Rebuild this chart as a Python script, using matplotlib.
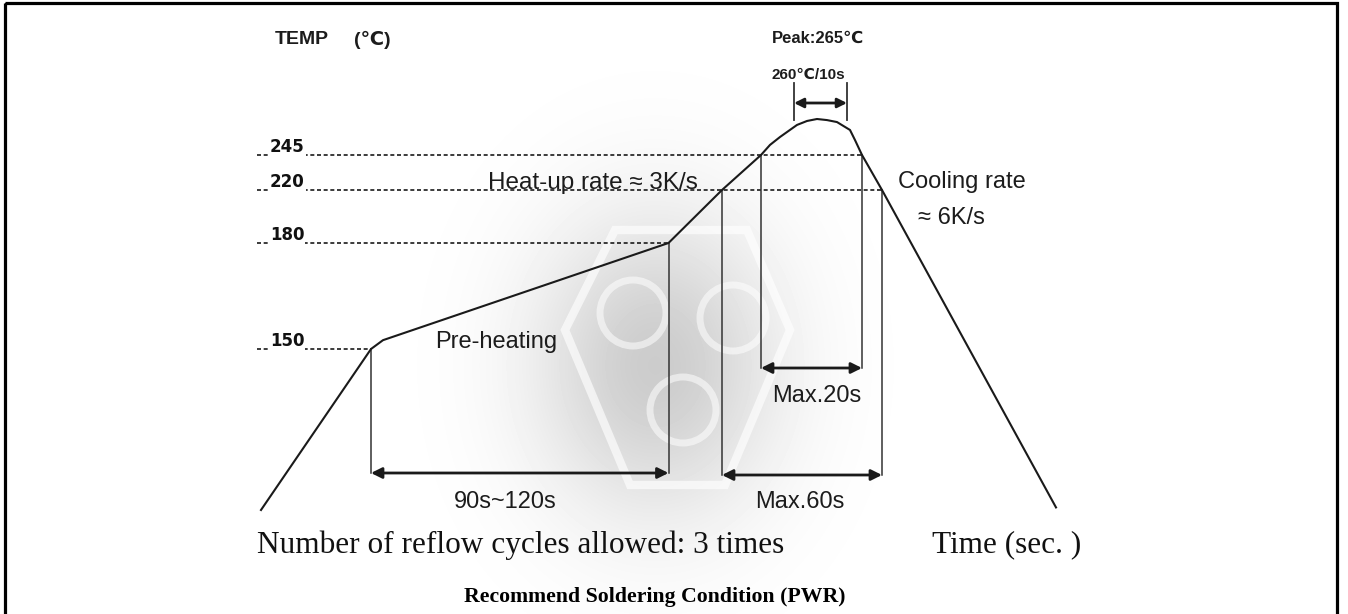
import numpy as np
import matplotlib.pyplot as plt
from matplotlib.patches import Rectangle, Polygon, Circle

# Reflow profile (time in s from start, temperature in degC)
profile_time = [0, 44, 48.8, 163, 184.4, 200, 203.6, 207.6, 214.4, 218.4, 222.4,
                226.4, 230.4, 235.6, 237.6, 240.4, 248.4, 318]
profile_temp = [25, 150, 152.5, 180, 220, 245, 250.6, 255, 261.7, 263.9, 265,
                264.4, 263.3, 258.9, 253.3, 245, 220, 27]

# Temperature levels marked on the left and where their dashed guides stop
level_values = [150, 180, 220, 245]
level_labels = ['150', '180', '220', '245']
level_end_time = [44, 163, 248.4, 240.4]

# Time windows shown by double arrows (start, end) in s
preheat_window = (44, 163)
above_220_window = (184.4, 248.4)
above_245_window = (200, 240.4)
peak_window = (213.2, 234.4)

# The drawing is schematic: temperatures are placed on a non-linear scale
x0, sx = 261, 2.5
scale_temp = [25, 150, 180, 220, 245, 265]
scale_px = [510, 349, 243, 190, 155, 119]


def tx(t):
    return x0 + np.asarray(t, dtype=float) * sx


def ty(T):
    return np.interp(T, scale_temp, scale_px)


fig = plt.figure(figsize=(13.48, 6.14), dpi=100)
ax = fig.add_axes([0, 0, 1, 1])
ax.set_xlim(0, 1348)
ax.set_ylim(614, 0)
ax.axis('off')

# faint watermark logo behind the curve
yy, xx = np.mgrid[0:614, 0:1348]
shade = 1 - 0.2 * np.exp(-(((xx - 655) / 85.0) ** 2 + ((yy - 365) / 105.0) ** 2) / 2)
ax.imshow(shade, cmap='gray', vmin=0, vmax=1, extent=(0, 1348, 614, 0),
          aspect='auto', zorder=0, interpolation='bilinear')
hexagon = Polygon([(615, 230), (747, 230), (790, 330), (725, 485), (630, 485), (565, 330)],
                  closed=True, fill=False, ec='white', lw=6, alpha=0.65, zorder=1)
ax.add_patch(hexagon)
for cx, cy in [(633, 313), (733, 318), (683, 410)]:
    ax.add_patch(Circle((cx, cy), 33, fill=False, ec='white', lw=5, alpha=0.55, zorder=1))

# outer frame
ax.add_patch(Rectangle((5, 3), 1332, 650, fill=False, lw=2.3, ec='black', zorder=5))

line_col = '#1a1a1a'

# profile curve
ax.plot(tx(profile_time), ty(profile_temp), color=line_col, lw=1.5,
        solid_joinstyle='round', zorder=4)

# dashed temperature guides with labels
for val, lab, tend in zip(level_values, level_labels, level_end_time):
    y = ty(val)
    ax.plot([257, tx(tend)], [y, y], color=line_col, lw=1.2, dashes=(2.4, 1.6), zorder=3)
    ax.text(270, y + 1, lab, ha='left', va='bottom', fontsize=12, fontweight='bold',
            family='DejaVu Sans', color='#111',
            bbox=dict(fc='white', ec='none', pad=0.6), zorder=3.5)

# vertical markers
vcol = '#333333'
ax.plot([tx(preheat_window[0])] * 2, [ty(150), 473], color=vcol, lw=1.1, zorder=3)
ax.plot([tx(preheat_window[1])] * 2, [ty(180), 473], color=vcol, lw=1.1, zorder=3)
ax.plot([tx(above_220_window[0])] * 2, [ty(220), 475], color=vcol, lw=1.1, zorder=3)
ax.plot([tx(above_220_window[1])] * 2, [ty(220), 475], color=vcol, lw=1.1, zorder=3)
ax.plot([tx(above_245_window[0])] * 2, [ty(245), 368], color=vcol, lw=1.1, zorder=3)
ax.plot([tx(above_245_window[1])] * 2, [ty(245), 368], color=vcol, lw=1.1, zorder=3)
ax.plot([tx(peak_window[0])] * 2, [83, 120], color=vcol, lw=1.3, zorder=3)
ax.plot([tx(peak_window[1])] * 2, [83, 120], color=vcol, lw=1.3, zorder=3)


def span_arrow(win, y, scale=16):
    ax.annotate('', xy=(tx(win[1]), y), xytext=(tx(win[0]), y),
                arrowprops=dict(arrowstyle='<|-|>', color=line_col, lw=2,
                                mutation_scale=scale, shrinkA=0, shrinkB=0), zorder=4)


span_arrow(preheat_window, 473)
span_arrow(above_220_window, 475)
span_arrow(above_245_window, 368)
span_arrow(peak_window, 103, scale=14)

sans = ['Liberation Sans', 'DejaVu Sans']
tc = '#1c1c1c'
ax.text(275, 40, 'TEMP', fontsize=14, fontweight='bold', family=sans, color=tc, va='center')
ax.text(354, 40, '(℃)', fontsize=14, fontweight='bold', family=sans, color=tc, va='center')
ax.text(772, 38, 'Peak:265℃', fontsize=12, fontweight='bold', family=sans, color=tc, va='center')
ax.text(772, 75, '260℃/10s', fontsize=11, fontweight='bold', family=sans, color=tc, va='center')

ax.text(488, 183, 'Heat-up rate ≈ 3K/s', fontsize=17.5, family=sans, color=tc, va='center')
ax.text(898, 182, 'Cooling rate', fontsize=17, family=sans, color=tc, va='center')
ax.text(918, 218, '≈ 6K/s', fontsize=17, family=sans, color=tc, va='center')
ax.text(435, 342, 'Pre-heating', fontsize=17, family=sans, color=tc, va='center')
ax.text(817, 396, 'Max.20s', fontsize=17, family=sans, color=tc, va='center', ha='center')
ax.text(505, 502, '90s~120s', fontsize=17, family=sans, color=tc, va='center', ha='center')
ax.text(800, 502, 'Max.60s', fontsize=17, family=sans, color=tc, va='center', ha='center')

ax.text(257, 545, 'Number of reflow cycles allowed: 3 times', fontsize=22.5,
        family='Liberation Serif', color='#111', va='center')
ax.text(932, 545, 'Time (sec. )', fontsize=22.5, family='Liberation Serif', color='#111', va='center')
ax.text(655, 597, 'Recommend Soldering Condition (PWR)', fontsize=15.7, fontweight='bold',
        family='Liberation Serif', color='black', va='center', ha='center')

plt.savefig('out.png', dpi=100)
